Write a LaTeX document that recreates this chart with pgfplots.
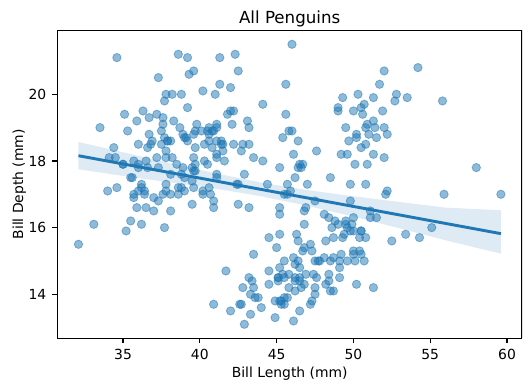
\documentclass[border=0pt]{standalone}
\usepackage{fontspec}
\setmainfont{DejaVu Sans}
\usepackage{pgfplots}
\pgfplotsset{compat=1.18}
\definecolor{tabblue}{HTML}{1F77B4}
\begin{document}
\fontsize{10pt}{12pt}\selectfont
\begin{tikzpicture}
\path[use as bounding box] (-41.3pt,-37.9pt) rectangle (341.8pt,243.6pt);
\begin{axis}[
  at={(0pt,0pt)}, anchor=south west,
  scale only axis, width=334.6pt, height=221.8pt,
  xmin=30.725, xmax=60.975, ymin=12.68, ymax=21.92,
  xtick={35,40,45,50,55,60}, ytick={14,16,18,20},
  tick align=outside, major tick length=3.5pt,
  tick style={line width=0.8pt, black},
  axis line style={line width=0.8pt},
  axis x line*=bottom, axis y line*=left,
  every outer x axis line/.append style={-}, every outer y axis line/.append style={-},
  /pgf/number format/assume math mode=true,
  ticklabel style={font=\fontsize{10pt}{12pt}\selectfont},
  xticklabel style={yshift=-1pt}, yticklabel style={xshift=-1pt},
  xlabel={Bill Length (mm)}, ylabel={Bill Depth (mm)},
  xlabel style={yshift=2pt}, ylabel style={yshift=-5pt},
  label style={font=\fontsize{10pt}{12pt}\selectfont},
  title={All Penguins},
  title style={font=\fontsize{12pt}{14pt}\selectfont, yshift=-7pt},
  clip=true,
]
\draw[line width=0.8pt] (rel axis cs:0,1) -- (rel axis cs:1,1) -- (rel axis cs:1,0);
\addplot[only marks, color=tabblue, mark=*, mark size=3pt, mark options={line width=0.6pt, draw=tabblue, draw opacity=0.5, fill=tabblue, fill opacity=0.5}] coordinates {
(39.1,18.7) (39.5,17.4) (40.3,18.0) (36.7,19.3) (39.3,20.6) (38.9,17.8) (39.2,19.6) (34.1,18.1) (42.0,20.2) (37.8,17.1)
(37.8,17.3) (41.1,17.6) (38.6,21.2) (34.6,21.1) (36.6,17.8) (38.7,19.0) (42.5,20.7) (34.4,18.4) (46.0,21.5) (37.8,18.3)
(37.7,18.7) (35.9,19.2) (38.2,18.1) (38.8,17.2) (35.3,18.9) (40.6,18.6) (40.5,17.9) (37.9,18.6) (40.5,18.9) (39.5,16.7)
(37.2,18.1) (39.5,17.8) (40.9,18.9) (36.4,17.0) (39.2,21.1) (38.8,20.0) (42.2,18.5) (37.6,19.3) (39.8,19.1) (36.5,18.0)
(40.8,18.4) (36.0,18.5) (44.1,19.7) (37.0,16.9) (39.6,18.8) (41.1,19.0) (37.5,18.9) (36.0,17.9) (42.3,21.2) (39.6,17.7)
(40.1,18.9) (35.0,17.9) (42.0,19.5) (34.5,18.1) (41.4,18.6) (39.0,17.5) (40.6,18.8) (36.5,16.6) (37.6,19.1) (35.7,16.9)
(41.3,21.1) (37.6,17.0) (41.1,18.2) (36.4,17.1) (41.6,18.0) (35.5,16.2) (41.1,19.1) (35.9,16.6) (41.8,19.4) (33.5,19.0)
(39.7,18.4) (39.6,17.2) (45.8,18.9) (35.5,17.5) (42.8,18.5) (40.9,16.8) (37.2,19.4) (36.2,16.1) (42.1,19.1) (34.6,17.2)
(42.9,17.6) (36.7,18.8) (35.1,19.4) (37.3,17.8) (41.3,20.3) (36.3,19.5) (36.9,18.6) (38.3,19.2) (38.9,18.8) (35.7,18.0)
(41.1,18.1) (34.0,17.1) (39.6,18.1) (36.2,17.3) (40.8,18.9) (38.1,18.6) (40.3,18.5) (33.1,16.1) (43.2,18.5) (35.0,17.9)
(41.0,20.0) (37.7,16.0) (37.8,20.0) (37.9,18.6) (39.7,18.9) (38.6,17.2) (38.2,20.0) (38.1,17.0) (43.2,19.0) (38.1,16.5)
(45.6,20.3) (39.7,17.7) (42.2,19.5) (39.6,20.7) (42.7,18.3) (38.6,17.0) (37.3,20.5) (35.7,17.0) (41.1,18.6) (36.2,17.2)
(37.7,19.8) (40.2,17.0) (41.4,18.5) (35.2,15.9) (40.6,19.0) (38.8,17.6) (41.5,18.3) (39.0,17.1) (44.1,18.0) (38.5,17.9)
(43.1,19.2) (36.8,18.5) (37.5,18.5) (38.1,17.6) (41.1,17.5) (35.6,17.5) (40.2,20.1) (37.0,16.5) (39.7,17.9) (40.2,17.1)
(40.6,17.2) (32.1,15.5) (40.7,17.0) (37.3,16.8) (39.0,18.7) (39.2,18.6) (36.6,18.4) (36.0,17.8) (37.8,18.1) (36.0,17.1)
(41.5,18.5)
(46.1,13.2) (50.0,16.3) (48.7,14.1) (50.0,15.2) (47.6,14.5) (46.5,13.5) (45.4,14.6) (46.7,15.3) (43.3,13.4) (46.8,15.4)
(40.9,13.7) (49.0,16.1) (45.5,13.7) (48.4,14.6) (45.8,14.6) (49.3,15.7) (42.0,13.5) (49.2,15.2) (46.2,14.5) (48.7,15.1)
(50.2,14.3) (45.1,14.5) (46.5,14.5) (46.3,15.8) (42.9,13.1) (46.1,15.1) (44.5,14.3) (47.8,15.0) (48.2,14.3) (50.0,15.3)
(47.3,15.3) (42.8,14.2) (45.1,14.5) (59.6,17.0) (49.1,14.8) (48.4,16.3) (42.6,13.7) (44.4,17.3) (44.0,13.6) (48.7,15.7)
(42.7,13.7) (49.6,16.0) (45.3,13.7) (49.6,15.0) (50.5,15.9) (43.6,13.9) (45.5,13.9) (50.5,15.9) (44.9,13.3) (45.2,15.8)
(46.6,14.2) (48.5,14.1) (45.1,14.4) (50.1,15.0) (46.5,14.4) (45.0,15.4) (43.8,13.9) (45.5,15.0) (43.2,14.5) (50.4,15.3)
(45.3,13.8) (46.2,14.9) (45.7,13.9) (54.3,15.7) (45.8,14.2) (49.8,16.8) (46.2,14.4) (49.5,16.2) (43.5,14.2) (50.7,15.0)
(47.7,15.0) (46.4,15.6) (48.2,15.6) (46.5,14.8) (46.4,15.0) (48.6,16.0) (47.5,14.2) (51.1,16.3) (45.2,13.8) (45.2,16.4)
(49.1,14.5) (52.5,15.6) (47.4,14.6) (50.0,15.9) (44.9,13.8) (50.8,17.3) (43.4,14.4) (51.3,14.2) (47.5,14.0) (52.1,17.0)
(47.5,15.0) (52.2,17.1) (45.5,14.5) (49.5,16.1) (44.5,14.7) (50.8,15.7) (49.4,15.8) (46.9,14.6) (48.4,14.4) (51.1,16.5)
(48.5,15.0) (55.9,17.0) (47.2,15.5) (49.1,15.0) (47.3,13.8) (46.8,16.1) (41.7,14.7) (53.4,15.8) (43.3,14.0) (48.1,15.1)
(50.5,15.2) (49.8,15.9) (43.5,15.2) (51.5,16.3) (46.2,14.1) (55.1,16.0) (44.5,15.7) (48.8,16.2) (47.2,13.7) (46.8,14.3)
(50.4,15.7) (45.2,14.8) (49.9,16.1)
(46.5,17.9) (50.0,19.5) (51.3,19.2) (45.4,18.7) (52.7,19.8) (45.2,17.8) (46.1,18.2) (51.3,18.2) (46.0,18.9) (51.3,19.9)
(46.6,17.8) (51.7,20.3) (47.0,17.3) (52.0,18.1) (45.9,17.1) (50.5,19.6) (50.3,20.0) (58.0,17.8) (46.4,18.6) (49.2,18.2)
(42.4,17.3) (48.5,17.5) (43.2,16.6) (50.6,19.4) (46.7,17.9) (52.0,19.0) (50.5,18.4) (49.5,19.0) (46.4,17.8) (52.8,20.0)
(40.9,16.6) (54.2,20.8) (42.5,16.7) (51.0,18.8) (49.7,18.6) (47.5,16.8) (47.6,18.3) (52.0,20.7) (46.9,16.6) (53.5,19.9)
(49.0,19.5) (46.2,17.5) (50.9,19.1) (45.5,17.0) (50.9,17.9) (50.8,18.5) (50.1,17.9) (49.0,19.6) (51.5,18.7) (49.8,17.3)
(48.1,16.4) (51.4,19.0) (45.7,17.3) (50.7,19.7) (42.5,17.3) (52.2,18.8) (45.2,16.6) (49.3,19.9) (50.2,18.8) (45.6,19.4)
(51.9,19.5) (46.8,16.5) (45.7,17.0) (55.8,19.8) (43.5,18.1) (49.6,18.2) (50.8,19.0) (50.2,18.7)
};
\addplot[tabblue, line width=2.1pt] coordinates {(32.1,18.157) (59.6,15.819)};
\addplot[fill=tabblue, fill opacity=0.15, draw=none] coordinates {
(32.1,17.75) (35,17.55) (38,17.36) (41,17.17) (44,16.94) (47,16.655) (50,16.33) (53,15.98) (56,15.62) (59.6,15.22)
(59.6,16.52) (56,16.60) (53,16.77) (50,16.94) (47,17.125) (44,17.35) (41,17.63) (38,17.94) (35,18.26) (32.1,18.57)
} -- cycle;
\end{axis}
\end{tikzpicture}
\end{document}
